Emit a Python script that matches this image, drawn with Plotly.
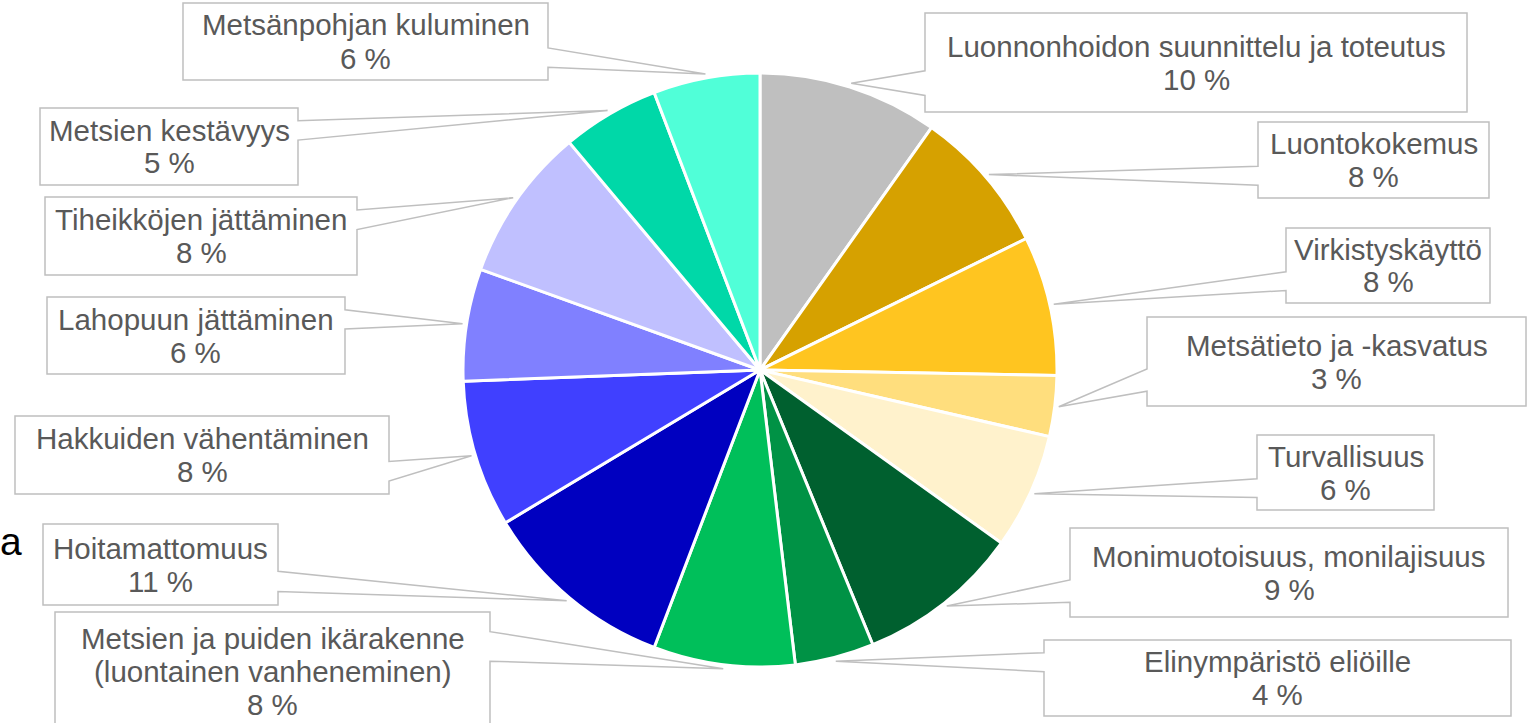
import math
import plotly.graph_objects as go

# ---- data -------------------------------------------------------------
categories = [
    "Luonnonhoidon suunnittelu ja toteutus",
    "Luontokokemus",
    "Virkistyskäyttö",
    "Metsätieto ja -kasvatus",
    "Turvallisuus",
    "Monimuotoisuus, monilajisuus",
    "Elinympäristö eliöille",
    "Metsien ja puiden ikärakenne\n(luontainen vanheneminen)",
    "Hoitamattomuus",
    "Hakkuiden vähentäminen",
    "Lahopuun jättäminen",
    "Tiheikköjen jättäminen",
    "Metsien kestävyys",
    "Metsänpohjan kuluminen",
]
shares = [9.8, 7.9, 7.6, 3.3, 6.3, 8.9, 4.3, 7.7, 10.6, 8.0, 6.1, 8.4, 5.3, 5.8]
slice_colors = [
    "#BFBFBF", "#D6A100", "#FFC520", "#FFDE7D", "#FFF2CC",
    "#00602F", "#009245", "#00BF5A", "#0000C0", "#4040FF",
    "#8080FF", "#C0C0FF", "#00D8A8", "#50FFD8",
]

# ---- layout (pixels) --------------------------------------------------
W, H = 1527, 723
CX, CY, R = 760, 370, 297
# callout boxes: x0, y0, x1, y1
callout_boxes = [
    (925, 13, 1467, 112),
    (1258, 122, 1489, 198),
    (1286, 228, 1490, 303),
    (1147, 317, 1526, 406),
    (1257, 435, 1434, 510),
    (1070, 528, 1508, 617),
    (1044, 640, 1511, 716),
    (55, 612, 490, 730),
    (43, 524, 278, 605),
    (15, 416, 389, 494),
    (47, 297, 345, 374),
    (45, 197, 357, 275),
    (40, 108, 298, 185),
    (183, 3, 548, 80),
]
LINE_GAP = 33
FONT = "Liberation Sans, Arial, sans-serif"
FONT_SIZE = 29.5
TEXT_COLOR = "#595959"
EDGE_COLOR = "#BFBFBF"


def px(x):
    return x / W


def py(y):
    return 1 - y / H


fig = go.Figure()
fig.add_trace(go.Pie(
    values=shares,
    labels=[c.replace("\n", " ") for c in categories],
    sort=False,
    direction="clockwise",
    rotation=0,
    marker=dict(colors=slice_colors, line=dict(color="white", width=3)),
    textinfo="none",
    hoverinfo="label+percent",
    showlegend=False,
    domain=dict(x=[px(CX - R), px(CX + R)], y=[py(CY + R), py(CY - R)]),
))

total = sum(shares)
cum = 0.0
shapes = []
annotations = []
for cat, val, box in zip(categories, shares, callout_boxes):
    mid = math.radians((cum + val / 2) / total * 360)
    cum += val
    tx = CX + (R + 4) * math.sin(mid)
    ty = CY - (R + 4) * math.cos(mid)

    x0, y0, x1, y1 = box
    h = y1 - y0
    below = ty > (y0 + y1) / 2
    ya = y0 + h * (7 if below else 2) / 12
    yb = y0 + h * (10 if below else 5) / 12

    if tx < x0:
        pts = [(x0, y0), (x1, y0), (x1, y1), (x0, y1), (x0, yb), (tx, ty), (x0, ya)]
    else:
        pts = [(x0, y0), (x1, y0), (x1, ya), (tx, ty), (x1, yb), (x1, y1), (x0, y1)]
    path = "M " + " L ".join(f"{px(a):.5f},{py(b):.5f}" for a, b in pts) + " Z"
    shapes.append(dict(
        type="path", xref="paper", yref="paper", path=path,
        fillcolor="white", line=dict(color=EDGE_COLOR, width=1.5), layer="above",
    ))

    lines = cat.split("\n") + [f"{round(val / total * 100)} %"]
    cy = (y0 + y1) / 2
    n = len(lines)
    for i, line in enumerate(lines):
        ly = cy + (i - (n - 1) / 2) * LINE_GAP
        annotations.append(dict(
            x=px((x0 + x1) / 2), y=py(ly), xref="paper", yref="paper",
            text=line, showarrow=False, xanchor="center", yanchor="middle",
            font=dict(family=FONT, size=FONT_SIZE, color=TEXT_COLOR),
        ))

annotations.append(dict(
    x=px(11), y=py(541), xref="paper", yref="paper", text="a",
    showarrow=False, xanchor="center", yanchor="middle",
    font=dict(family=FONT, size=39, color="black"),
))

fig.update_layout(
    width=W, height=H,
    margin=dict(l=0, r=0, t=0, b=0),
    paper_bgcolor="white", plot_bgcolor="white",
    shapes=shapes, annotations=annotations,
)
fig.write_html("out.html")
